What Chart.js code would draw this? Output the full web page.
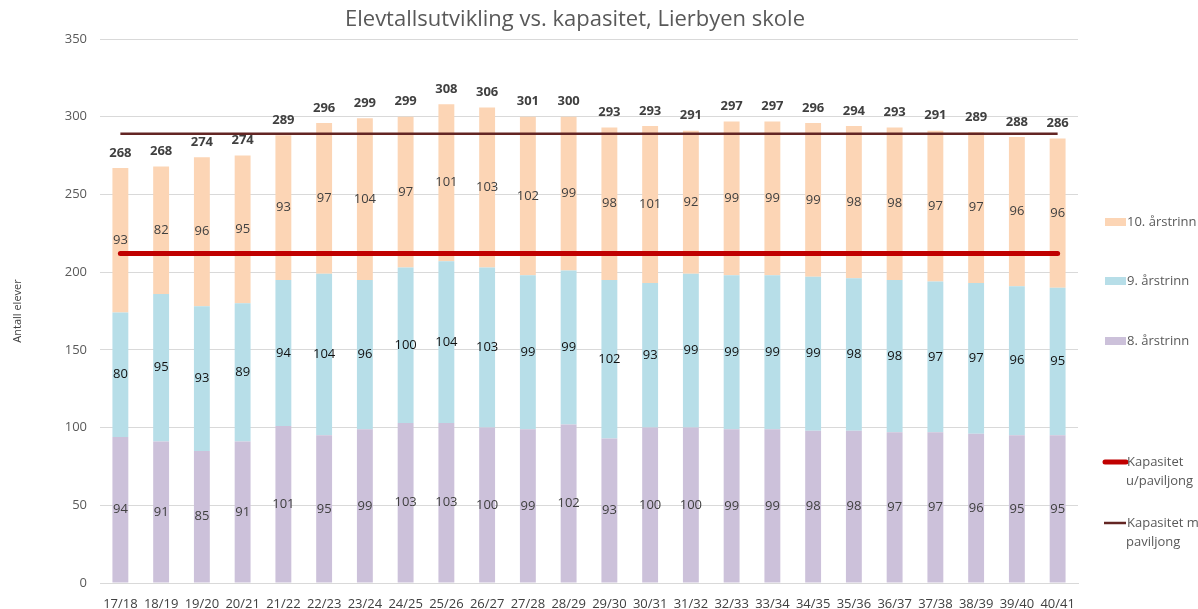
<!DOCTYPE html>
<html><head><meta charset="utf-8">
<script src="https://cdn.jsdelivr.net/npm/chart.js@4"></script>
<style>html,body{margin:0;padding:0;background:#fff}#wrap{width:1198px;height:609px}</style>
</head><body><div id="wrap"><canvas id="c" width="1198" height="609"></canvas></div>
<script>
const categories = ["17/18","18/19","19/20","20/21","21/22","22/23","23/24","24/25","25/26","26/27","27/28","28/29","29/30","30/31","31/32","32/33","33/34","34/35","35/36","36/37","37/38","38/39","39/40","40/41"];
const trinn8 = [94,91,85,91,101,95,99,103,103,100,99,102,93,100,100,99,99,98,98,97,97,96,95,95];
const trinn9 = [80,95,93,89,94,104,96,100,104,103,99,99,102,93,99,99,99,99,98,98,97,97,96,95];
const trinn10 = [93,82,96,95,93,97,104,97,101,103,102,99,98,101,92,99,99,99,98,98,97,97,96,96];
const totals = [268,268,274,274,289,296,299,299,308,306,301,300,293,293,291,297,297,296,294,293,291,289,288,286];
const kapUten = [212,212,212,212,212,212,212,212,212,212,212,212,212,212,212,212,212,212,212,212,212,212,212,212];
const kapMed = [289,289,289,289,289,289,289,289,289,289,289,289,289,289,289,289,289,289,289,289,289,289,289,289];
const yTicks = [0,50,100,150,200,250,300,350];
const titleText = 'Elevtallsutvikling vs. kapasitet, Lierbyen skole';

const FONT = "'Open Sans', sans-serif";
const C8 = '#ccc1da', C9 = '#b7dee8', C10 = '#fcd5b5', CU = '#c00000', CM = '#632523';

const labelPlugin = {
  id: 'labels',
  afterDatasetsDraw(chart) {
    const ctx = chart.ctx;
    ctx.save();
    ctx.textAlign = 'center';
    ctx.textBaseline = 'middle';
    [0,1,2].forEach(di => {
      const meta = chart.getDatasetMeta(di);
      const ds = chart.data.datasets[di];
      meta.data.forEach((bar, i) => {
        const yc = (bar.y + bar.base) / 2;
        ctx.font = "13px " + FONT;
        ctx.fillStyle = di === 1 ? '#111111' : '#404040';
        ctx.fillText(String(ds.data[i]), bar.x, yc);
      });
    });
    const top = chart.getDatasetMeta(2);
    ctx.font = "bold 13px " + FONT; ctx.fillStyle = '#404040';
    top.data.forEach((bar, i) => {
      ctx.fillText(String(totals[i]), bar.x, bar.y - 15);
    });
    ctx.restore();
  }
};

const legendPlugin = {
  id: 'customLegend',
  afterDraw(chart) {
    const ctx = chart.ctx;
    ctx.save();
    ctx.textBaseline = 'middle';
    ctx.textAlign = 'center';
    ctx.font = "22px " + FONT;
    ctx.fillStyle = '#595959';
    ctx.fillText(titleText, 575, 20);
    ctx.font = "13px " + FONT;
    ctx.fillStyle = '#595959';
    ctx.textAlign = 'left';
    const boxes = [[C10,'10. årstrinn',222],[C9,'9. årstrinn',281],[C8,'8. årstrinn',341]];
    boxes.forEach(([c,t,y]) => {
      ctx.fillStyle = c; ctx.fillRect(1105, y-4, 21, 8);
      ctx.fillStyle = '#595959'; ctx.fillText(t, 1127, y);
    });
    ctx.lineCap = 'round';
    ctx.strokeStyle = CU; ctx.lineWidth = 5;
    ctx.beginPath(); ctx.moveTo(1105, 462); ctx.lineTo(1126, 462); ctx.stroke();
    ctx.fillText('Kapasitet', 1127, 462);
    ctx.fillText('u/paviljong', 1126, 481);
    ctx.strokeStyle = CM; ctx.lineWidth = 2.5; ctx.lineCap = 'butt';
    ctx.beginPath(); ctx.moveTo(1104, 523); ctx.lineTo(1126, 523); ctx.stroke();
    ctx.fillText('Kapasitet m', 1127, 523);
    ctx.fillText('paviljong', 1126, 542);
    ctx.restore();
  }
};

new Chart(document.getElementById('c'), {
  data: {
    labels: categories,
    datasets: [
      {type:'bar', label:'8. årstrinn', data: trinn8, backgroundColor: C8, stack:'s', order: 2, barPercentage: 0.39, categoryPercentage: 1},
      {type:'bar', label:'9. årstrinn', data: trinn9, backgroundColor: C9, stack:'s', order: 2, barPercentage: 0.39, categoryPercentage: 1},
      {type:'bar', label:'10. årstrinn', data: trinn10, backgroundColor: C10, stack:'s', order: 2, barPercentage: 0.39, categoryPercentage: 1},
      {type:'line', label:'Kapasitet u/paviljong', data: kapUten, stack:'u', borderColor: CU, borderWidth: 5, pointRadius: 0, order: 0, borderCapStyle:'round'},
      {type:'line', label:'Kapasitet m paviljong', data: kapMed, stack:'m', borderColor: CM, borderWidth: 2.5, pointRadius: 0, order: 0}
    ]
  },
  options: {
    responsive: false,
    animation: false,
    layout: { padding: { left: 11, right: 120, top: 39, bottom: 0 } },
    plugins: {
      legend: { display: false },
      tooltip: { enabled: false },
      title: { display: false }
    },
    scales: {
      x: {
        stacked: true,
        grid: { display: false },
        border: { display: true, color: '#d9d9d9' },
        ticks: { color: '#404040', font: { family: FONT, size: 13 }, padding: 5, maxRotation: 0, autoSkip: false },
        afterFit: (s) => { s.height = 26; }
      },
      y: {
        stacked: true,
        min: 0, max: 350,
        afterBuildTicks: (s) => { s.ticks = yTicks.map(v => ({value: v})); },
        grid: { color: '#d9d9d9', drawTicks: false },
        border: { display: false },
        ticks: { color: '#595959', font: { family: FONT, size: 13 }, padding: 13 },
        title: { display: true, text: 'Antall elever', color: '#404040', font: { family: FONT, size: 11 }, padding: { top: 0, bottom: 16 } },
        afterFit: (s) => { s.width = 89; }
      }
    }
  },
  plugins: [labelPlugin, legendPlugin]
});
</script></body></html>
